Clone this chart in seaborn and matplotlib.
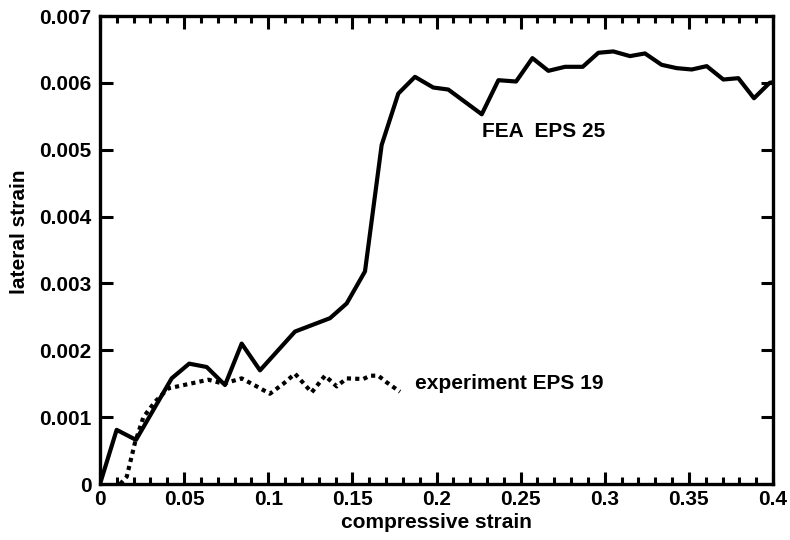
import matplotlib
matplotlib.use("Agg")
import matplotlib.pyplot as plt
from matplotlib.ticker import MultipleLocator, FuncFormatter
import pandas as pd
import seaborn as sns

# FEA simulation, EPS 25
fea_strain = [0.0, 0.0099, 0.0214, 0.0426, 0.053, 0.0634, 0.0743, 0.0842, 0.0951,
              0.1159, 0.1367, 0.1466, 0.1575, 0.1674, 0.1773, 0.1872, 0.1981, 0.207,
              0.2269, 0.2368, 0.2473, 0.257, 0.2665, 0.2764, 0.2869, 0.2962, 0.3051,
              0.315, 0.3239, 0.3338, 0.3428, 0.3517, 0.3606, 0.3705, 0.3794, 0.3887,
              0.398, 0.4]
fea_lateral = [0.0, 0.00081, 0.00066, 0.00158, 0.0018, 0.00175, 0.00148, 0.0021, 0.0017,
               0.00228, 0.00248, 0.0027, 0.00318, 0.00507, 0.00584, 0.00609, 0.00593, 0.0059,
               0.00553, 0.00604, 0.00602, 0.00637, 0.00618, 0.00624, 0.00624, 0.00645, 0.00647,
               0.0064, 0.00644, 0.00627, 0.00622, 0.0062, 0.00625, 0.00605, 0.00607, 0.00577,
               0.006, 0.00601]

# Measured response, EPS 19
exp_strain = [0.012, 0.0159, 0.0208, 0.0258, 0.0327, 0.0406, 0.0535, 0.0644, 0.0733,
              0.0842, 0.0931, 0.101, 0.109, 0.1159, 0.1258, 0.1337, 0.1407, 0.1466,
              0.1565, 0.1605, 0.1654, 0.1704, 0.1783]
exp_lateral = [0.0, 0.00011, 0.00062, 0.001, 0.00123, 0.00143, 0.0015, 0.00156, 0.0015,
               0.00158, 0.00146, 0.00135, 0.0015, 0.00165, 0.00137, 0.00162, 0.00146, 0.00158,
               0.00157, 0.00162, 0.00162, 0.00152, 0.00138]

sns.set_style("ticks")
plt.rcParams["font.family"] = ["Liberation Sans", "DejaVu Sans"]
plt.rcParams["font.weight"] = "bold"
for key in ("text.color", "axes.labelcolor", "xtick.color", "ytick.color",
            "axes.edgecolor"):
    plt.rcParams[key] = "black"

FS = 15

fig = plt.figure(figsize=(7.9, 5.4), dpi=100)
ax = fig.add_axes([100 / 790, 1 - 484 / 540, 673 / 790, 468 / 540])

fea = pd.DataFrame({"strain": fea_strain, "lateral": fea_lateral})
exp = pd.DataFrame({"strain": exp_strain, "lateral": exp_lateral})

sns.lineplot(data=fea, x="strain", y="lateral", ax=ax, color="black",
             linewidth=3.0, sort=False, estimator=None)
sns.lineplot(data=exp, x="strain", y="lateral", ax=ax, color="black",
             linewidth=3.0, sort=False, estimator=None, linestyle=(0, (1, 1)))

ax.set_xlim(0, 0.4)
ax.set_ylim(0, 0.007)

ax.xaxis.set_major_locator(MultipleLocator(0.05))
ax.xaxis.set_minor_locator(MultipleLocator(0.01))
ax.yaxis.set_major_locator(MultipleLocator(0.001))

fmt = FuncFormatter(lambda v, pos: ("%.3f" % v).rstrip("0").rstrip(".") if v != 0 else "0")
ax.xaxis.set_major_formatter(fmt)
ax.yaxis.set_major_formatter(fmt)

ax.tick_params(axis="both", which="major", direction="in", length=9, width=2.2,
               top=True, right=True, labelsize=FS, colors="black")
ax.tick_params(axis="y", which="major", pad=6)
ax.tick_params(axis="x", which="major", pad=4)
ax.tick_params(axis="x", which="minor", direction="in", length=5, width=2.2,
               top=True, bottom=True, colors="black")
for lbl in ax.get_xticklabels() + ax.get_yticklabels():
    lbl.set_fontweight("bold")

for sp in ax.spines.values():
    sp.set_linewidth(2.4)
    sp.set_color("black")
    sp.set_visible(True)

ax.set_xlabel("compressive strain", fontsize=FS, fontweight="bold", color="black")
ax.set_ylabel("lateral strain", fontsize=FS, fontweight="bold", color="black")
ax.xaxis.set_label_coords(0.5, -0.062)
ax.yaxis.set_label_coords(-0.106, 0.54)

ax.text(0.2269, 0.00527, "FEA  EPS 25", fontsize=FS, fontweight="bold",
        ha="left", va="center", color="black")
ax.text(0.1872, 0.00151, "experiment EPS 19", fontsize=FS, fontweight="bold",
        ha="left", va="center", color="black")

fig.savefig("out.png", dpi=100)
